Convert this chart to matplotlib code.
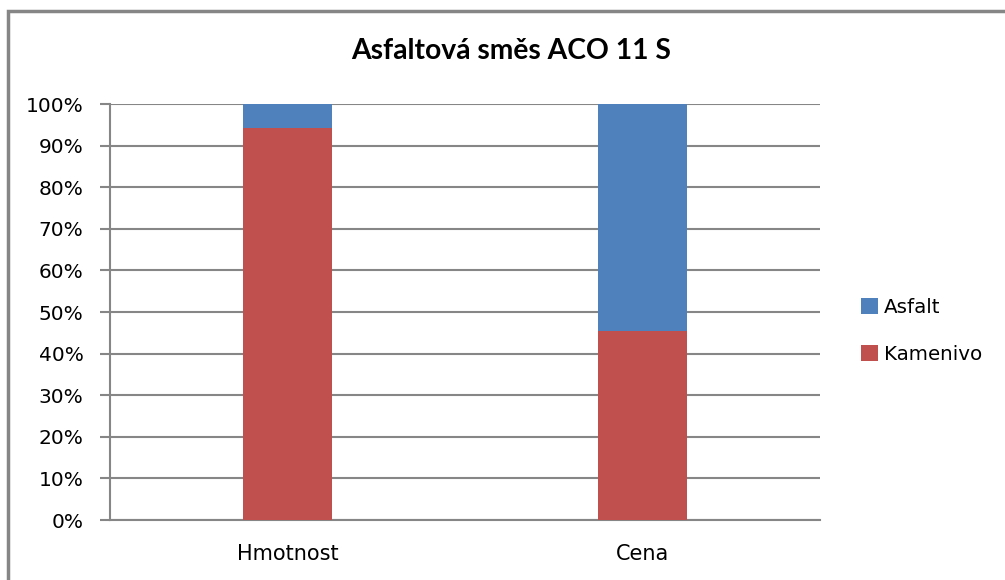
import numpy as np
import matplotlib.pyplot as plt
from matplotlib.patches import Rectangle
from matplotlib.ticker import PercentFormatter

plt.rcParams['font.family'] = ['DejaVu Sans']

categories = ['Hmotnost', 'Cena']
kamenivo = [94.3, 45.4]
asfalt = [5.7, 54.6]

fig = plt.figure(figsize=(10.05, 5.8), dpi=100)
ax = fig.add_axes([110/1005, 60/580, 710/1005, 416/580])

# outer chart frame
fig.patches.append(Rectangle((8/1005, -0.05), 1.1, 1 - 11/580 + 0.05, transform=fig.transFigure,
                             fill=False, edgecolor='#868686', linewidth=2.5))

x = np.arange(len(categories))
w = 0.248
ax.bar(x, kamenivo, w, color='#C0504D', label='Kamenivo', zorder=3)
ax.bar(x, asfalt, w, bottom=kamenivo, color='#4F81BD', label='Asfalt', zorder=3)

ax.set_xlim(-0.5, 1.5)
ax.set_ylim(0, 100)
ax.set_yticks(np.arange(0, 101, 10))
ax.yaxis.set_major_formatter(PercentFormatter(decimals=0))
ax.set_xticks(x)
ax.set_xticklabels(categories)
ax.grid(axis='y', color='#868686', linewidth=1.5, zorder=0)
for s in ['top', 'right']:
    ax.spines[s].set_visible(False)
for s in ['left', 'bottom']:
    ax.spines[s].set_color('#868686')
    ax.spines[s].set_linewidth(1.5)
ax.tick_params(axis='y', colors='#868686', labelcolor='black', labelsize=14.5, length=7, width=1.5, pad=12)
ax.tick_params(axis='x', length=0, labelsize=15, pad=17)

fig.text(511/1005, 1 - 59/580, 'Asfaltová směs ACO 11 S', family=['Lato', 'DejaVu Sans'],
         fontsize=20.3, fontweight='bold', ha='center', va='baseline')

handles, labels = ax.get_legend_handles_labels()
fig.legend(handles[::-1], labels[::-1], loc='center left', bbox_to_anchor=(843/1005, 1 - 331/580),
           frameon=False, fontsize=14.3, handlelength=0.86, handleheight=0.86, handletextpad=0.3,
           labelspacing=1.4)

fig.savefig('out.png', dpi=100)
